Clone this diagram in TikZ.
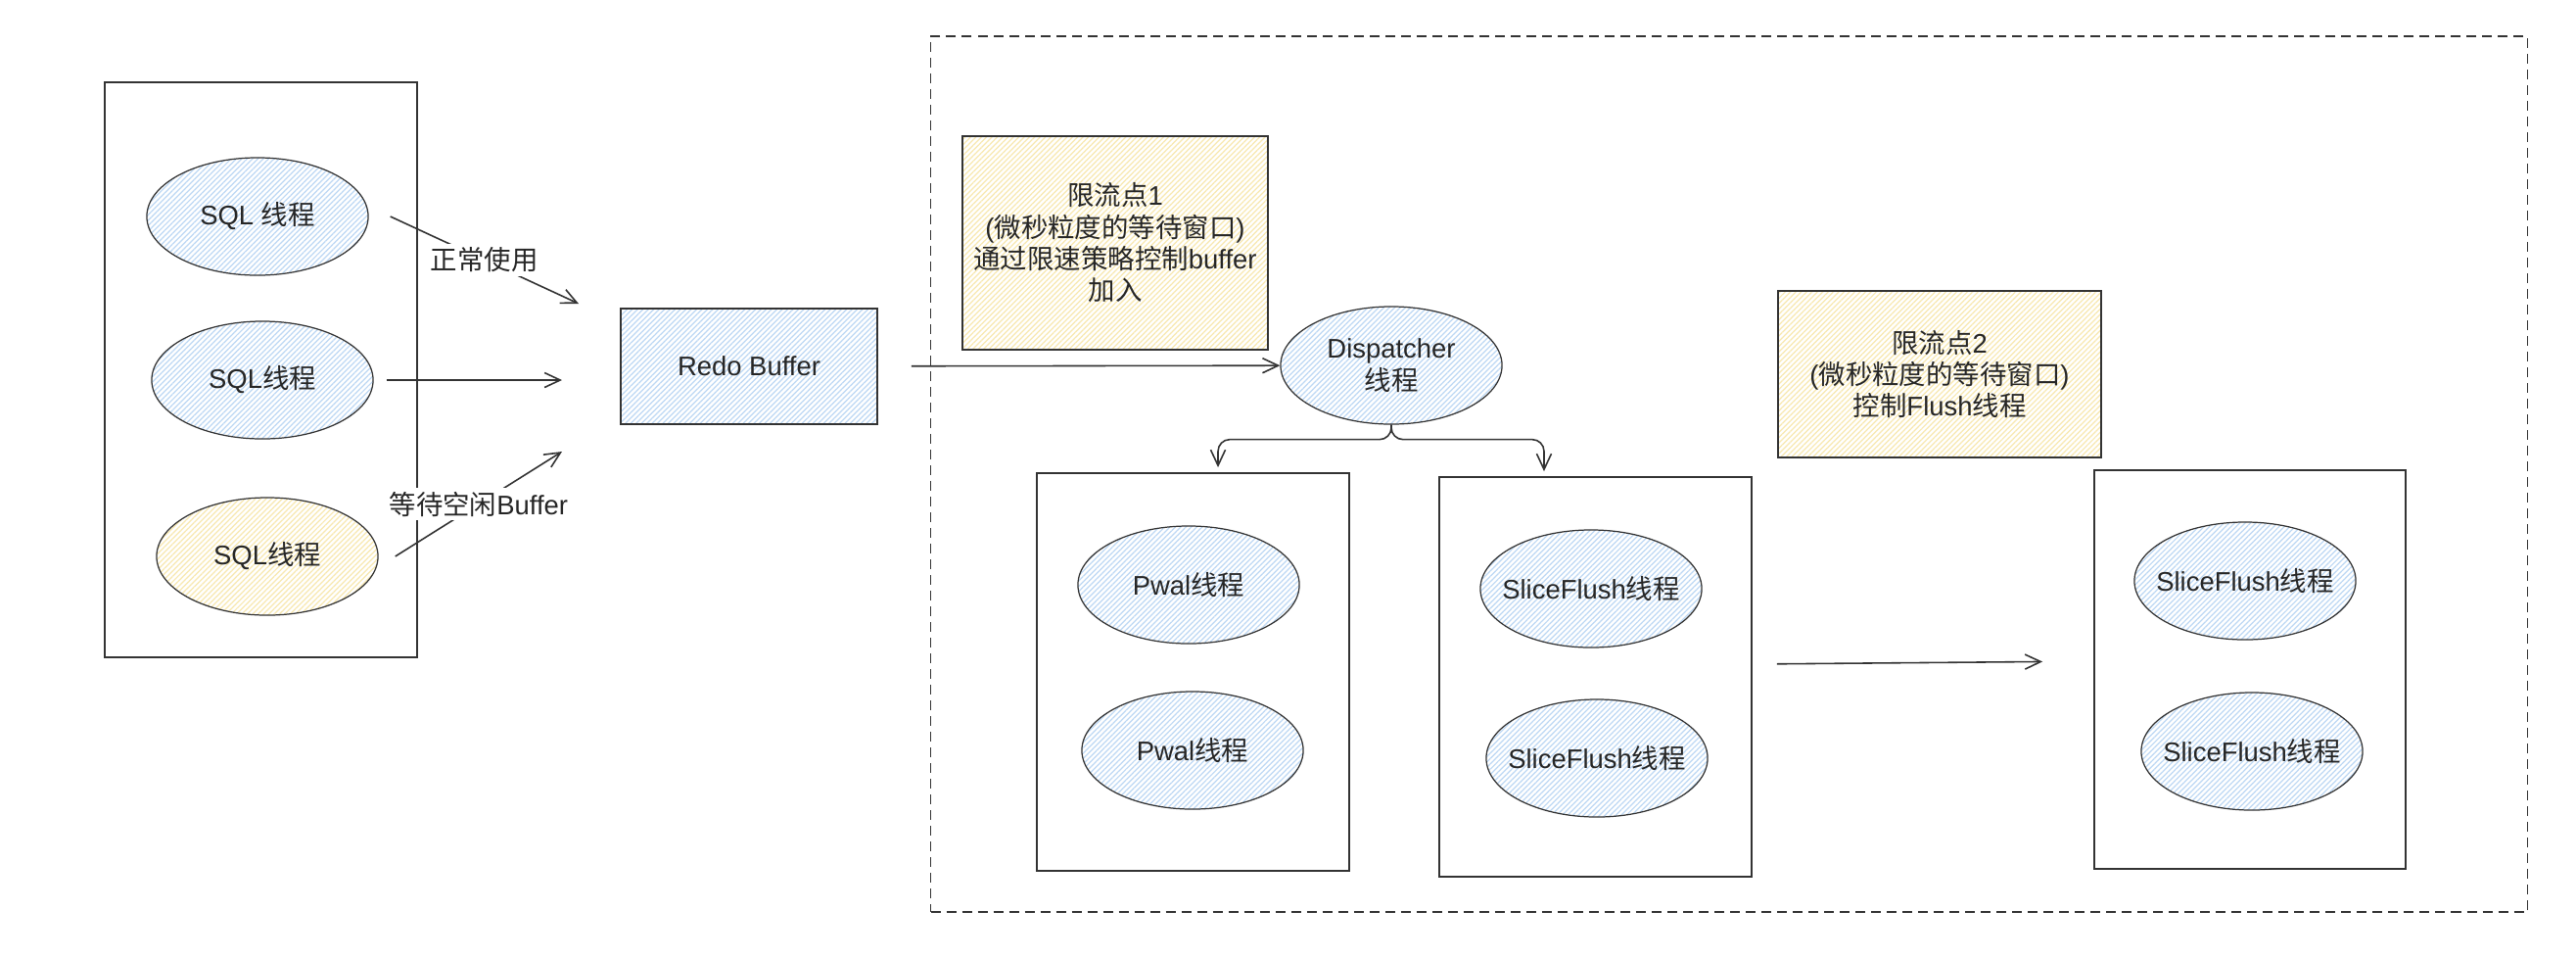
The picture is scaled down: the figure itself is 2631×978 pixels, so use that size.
\documentclass[tikz,border=0pt]{standalone}
\usepackage{fontspec}
\setmainfont{Liberation Sans}
\newfontfamily\cjk{Noto Sans CJK SC}
\usetikzlibrary{arrows.meta,patterns.meta,shapes.geometric}
\definecolor{hatchblue}{HTML}{BDD8F4}
\definecolor{hatchyellow}{HTML}{F8E8B0}
\definecolor{edgegray}{HTML}{333333}

\begin{document}
\begin{tikzpicture}[
  x=0.01cm, y=-0.01cm,
  every node/.style={font=\fontsize{7.8}{9.2}\selectfont, text=black!85},
  hatch/.style={pattern={Lines[angle=45,distance=1.1pt,line width=0.35pt]}},
  thread/.style={ellipse, draw=edgegray, line width=0.35pt, hatch, pattern color=hatchblue,
                 minimum width=2.26cm, minimum height=1.2cm, inner xsep=-0.15cm, inner ysep=0pt,
                 align=center},
  waiting/.style={thread, pattern color=hatchyellow},
  pool/.style={rectangle, draw=edgegray, line width=0.45pt, inner sep=0pt},
  buffer/.style={pool, hatch, pattern color=hatchblue},
  limit/.style={pool, hatch, pattern color=hatchyellow, align=center},
  region/.style={rectangle, draw=edgegray, line width=0.45pt, dash pattern=on 0.1cm off 0.06cm},
  flow/.style={-{Straight Barb[length=1.6mm,width=1.5mm]}, draw=edgegray, line width=0.45pt},
  tag/.style={fill=white, inner sep=1pt}
]
\fill[white] (0,0) rectangle (2631,978);

% SQL threads and the redo buffer
\node[pool, minimum width=3.19cm, minimum height=5.87cm] (sqlpool) at (266.5,377.5) {};
\node[thread] (sql1) at (263,221) {SQL {\cjk 线程}};
\node[thread] (sql2) at (268,388) {SQL{\cjk 线程}};
\node[waiting] (sql3) at (273,568) {SQL{\cjk 线程}};
\node[buffer, minimum width=2.62cm, minimum height=1.18cm] (redo) at (765,374) {Redo Buffer};

\coordinate (in1) at (591,310);
\coordinate (in2) at (574,388);
\coordinate (in3) at (574,461);

\draw[flow] ([xshift=0.22cm]sql1.east) -- node[tag] {\cjk 正常使用} (in1);
\draw[flow] ([xshift=0.13cm]sql2.east) -- (in2);
\draw[flow] ([xshift=0.17cm]sql3.east) -- node[tag] {{\cjk 等待空闲}Buffer} (in3);

% flush side
\node[region, minimum width=16.3cm, minimum height=8.94cm] (engine) at (1766,484) {};
\node[limit, minimum width=3.12cm, minimum height=2.18cm] (limit1) at (1139,248)
  {{\cjk 限流点}1\\({\cjk 微秒粒度的等待窗口})\\{\cjk 通过限速策略控制}buffer\\{\cjk 加入}};
\node[thread] (disp) at (1421,373) {Dispatcher\\{\cjk 线程}};
\node[limit, minimum width=3.30cm, minimum height=1.70cm] (limit2) at (1981,382)
  {{\cjk 限流点}2\\({\cjk 微秒粒度的等待窗口})\\{\cjk 控制}Flush{\cjk 线程}};

\node[pool, minimum width=3.19cm, minimum height=4.06cm] (pwalpool) at (1218.5,686) {};
\node[thread] (pwal1) at (1214,597) {Pwal{\cjk 线程}};
\node[thread] (pwal2) at (1218,766) {Pwal{\cjk 线程}};

\node[pool, minimum width=3.19cm, minimum height=4.08cm] (slicepool) at (1629.5,691) {};
\node[thread] (slice1) at (1625,601) {SliceFlush{\cjk 线程}};
\node[thread] (slice2) at (1631,774) {SliceFlush{\cjk 线程}};

\node[pool, minimum width=3.18cm, minimum height=4.07cm] (flushpool) at (2298,683.5) {};
\node[thread] (slice3) at (2293,593) {SliceFlush{\cjk 线程}};
\node[thread] (slice4) at (2300,767) {SliceFlush{\cjk 线程}};

\draw[flow, shorten <=0.34cm] (redo) -- (disp);
\draw[flow, rounded corners=0.12cm, shorten >=0.05cm]
  (disp.south) -- ++(0,15) -| ([xshift=0.255cm]pwalpool.north);
\draw[flow, rounded corners=0.12cm, shorten >=0.05cm]
  (disp.south) -- ++(0,15) -| ([xshift=-0.525cm]slicepool.north);
\draw[flow, shorten <=0.25cm, shorten >=0.52cm]
  ([yshift=0.13cm]slicepool.east) -- ([yshift=0.085cm]flushpool.west);
\end{tikzpicture}
\end{document}
